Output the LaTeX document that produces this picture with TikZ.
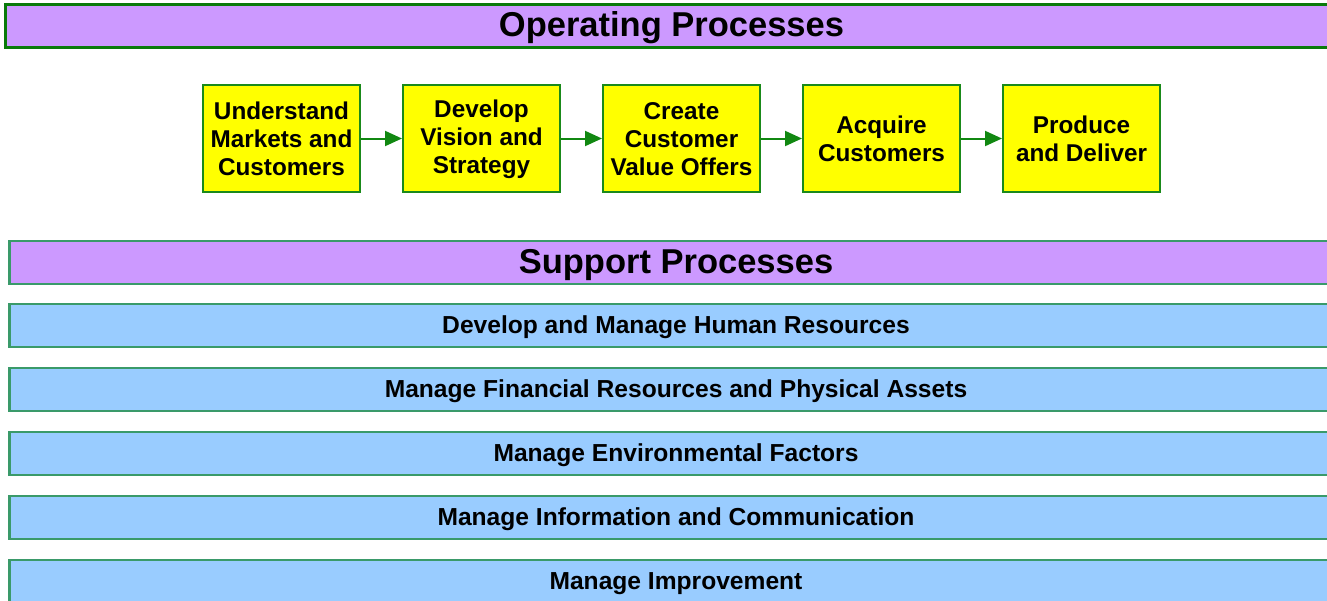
\documentclass[tikz,border=0pt]{standalone}
\usepackage{fontspec}
\setmainfont{Liberation Sans}
\usetikzlibrary{arrows.meta}
\definecolor{purp}{HTML}{CC99FF}
\definecolor{lblue}{HTML}{99CCFF}
\definecolor{dgreen}{HTML}{0A7A0A}
\definecolor{sgreen}{HTML}{3A9A6A}
\definecolor{bgreen}{HTML}{1A8A1A}
\definecolor{agreen}{HTML}{118811}
\definecolor{yel}{HTML}{FFFF00}
\begin{document}
\begin{tikzpicture}[x=1pt,y=-1pt,
  banner/.style={draw=sgreen,line width=2.5pt,fill=purp,minimum width=1333pt,minimum height=43pt,inner sep=0pt,font=\fontsize{34.5}{40}\selectfont\bfseries,text height=25pt,text depth=3pt},
  topbanner/.style={banner,draw=dgreen,line width=3pt},
  supbox/.style={draw=sgreen,line width=2.5pt,fill=lblue,minimum width=1333pt,minimum height=43pt,inner sep=0pt,font=\fontsize{24.6}{28}\selectfont\bfseries,text height=18pt,text depth=2pt},
  opbox/.style={draw=bgreen,line width=2pt,fill=yel,minimum width=157pt,minimum height=107pt,inner sep=0pt,
    label={[align=center,font=\fontsize{24.3}{28}\selectfont\bfseries,yshift=-0.8pt]center:#1}},
  arr/.style={draw=agreen,line width=2pt,-{Triangle[length=17pt,width=15pt]}}]
\useasboundingbox (0,0) rectangle (1327,600);
\node[topbanner] (op) at (671.5,25.5) {Operating Processes};
\node[opbox={Understand\\Markets and\\Customers}] (b1) at (281.5,138.5) {};
\node[opbox={Develop\\Vision and\\Strategy}] (b2) at (481.5,138.5) {};
\node[opbox={Create\\Customer\\Value Offers}] (b3) at (681.5,138.5) {};
\node[opbox={Acquire\\Customers}] (b4) at (881.5,138.5) {};
\node[opbox={Produce\\and Deliver}] (b5) at (1081.5,138.5) {};
\draw[arr] (b1) -- (b2);
\draw[arr] (b2) -- (b3);
\draw[arr] (b3) -- (b4);
\draw[arr] (b4) -- (b5);
\node[banner] (sp) at (676,262.5) {Support Processes};
\node[supbox] (s1) at (676,325.5) {Develop and Manage Human Resources};
\node[supbox] (s2) at (676,389.5) {Manage Financial Resources and Physical Assets};
\node[supbox] (s3) at (676,453.5) {Manage Environmental Factors};
\node[supbox] (s4) at (676,517.5) {Manage Information and Communication};
\node[supbox] (s5) at (676,581.5) {Manage Improvement};
\end{tikzpicture}
\end{document}
